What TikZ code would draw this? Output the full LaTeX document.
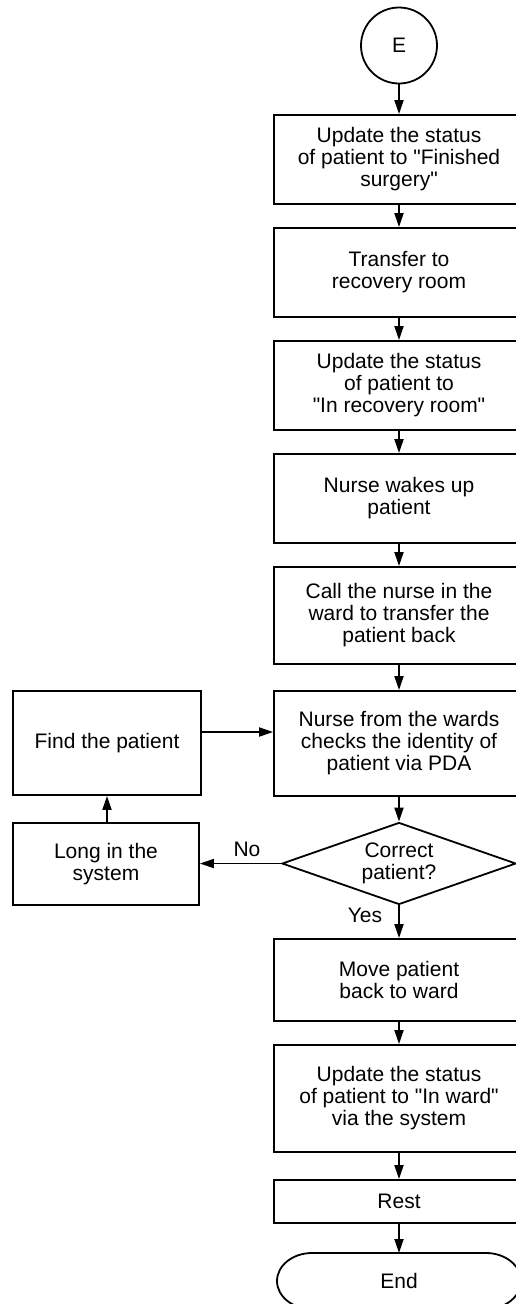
\documentclass[tikz,border=0pt]{standalone}
\usepackage{fontspec}
\newfontfamily\hv{Liberation Sans}
\usetikzlibrary{arrows.meta,shapes.geometric}
\begin{document}
\begin{tikzpicture}[x=1pt,y=-1pt, line width=1.8pt,
  txt/.style={font=\hv\fontsize{21}{22}\selectfont, align=center, inner sep=0pt},
  box/.style={txt, draw, rectangle, minimum width=250pt},
  lbox/.style={txt, draw, rectangle},
  arr/.style={-{Triangle[length=14pt,width=9pt]}, line width=1.8pt}]
\useasboundingbox (0,0) rectangle (516,1304);
\fill[white] (0,0) rectangle (516,1304);
\node[txt, draw, circle, minimum size=76pt] (circ) at (399,45.5) {E};
\node[box, minimum height=89pt] (b1) at (399,159.5) {Update the status\\of patient to "Finished\\surgery"};
\node[box, minimum height=89pt] (b2) at (399,272.5) {Transfer to\\recovery room};
\node[box, minimum height=89pt] (b3) at (399,385.5) {Update the status\\of patient to\\"In recovery room"};
\node[box, minimum height=89pt] (b4) at (399,498.5) {Nurse wakes up\\patient};
\node[box, minimum height=97pt] (b5) at (399,615.5) {Call the nurse in the\\ward to transfer the\\patient back};
\node[box, minimum height=105pt] (b6) at (399,743.5) {Nurse from the wards\\checks the identity of\\patient via PDA};
\node[draw, diamond, minimum width=234pt, minimum height=82pt, inner sep=0pt] (dia) at (399,863.5) {};
\node[txt] (diat) at (399,863.5) {Correct\\patient?};
\node[box, minimum height=82pt] (move) at (399,980) {Move patient\\back to ward};
\node[box, minimum height=107pt] (ward) at (399,1098.5) {Update the status\\of patient to "In ward"\\via the system};
\node[box, minimum height=43pt] (rest) at (399,1201.5) {Rest};
\node[txt] (endn) at (399,1281) {End};
\coordinate (endtop) at (399,1253);
\draw (312,1253) -- (486,1253) arc[start angle=-90, end angle=90, x radius=35, y radius=28]
  -- (312,1309) arc[start angle=90, end angle=270, x radius=35, y radius=28] -- cycle;
\node[lbox, minimum width=188pt, minimum height=104pt] (find) at (107,743) {Find the patient};
\node[lbox, minimum width=186pt, minimum height=82pt] (long) at (106,864) {Long in the\\system};
\node[txt] (no) at (247,849) {No};
\node[txt] (yes) at (365,915) {Yes};
\draw[arr] (circ) -- (b1);
\draw[arr] (b1) -- (b2);
\draw[arr] (b2) -- (b3);
\draw[arr] (b3) -- (b4);
\draw[arr] (b4) -- (b5);
\draw[arr] (b5) -- (b6);
\draw[arr] (b6) -- (dia);
\draw[arr] (dia) -- (move);
\draw[arr] (move) -- (ward);
\draw[arr] (ward) -- (rest);
\draw[arr] (rest) -- (endtop);
\draw[arr] (dia.west) -- (dia.west -| long.east);
\draw[arr] (long.north -| find.south) -- (find.south);
\draw[arr] (find.east |- 0,732) -- (b6.west |- 0,732);
\end{tikzpicture}
\end{document}
